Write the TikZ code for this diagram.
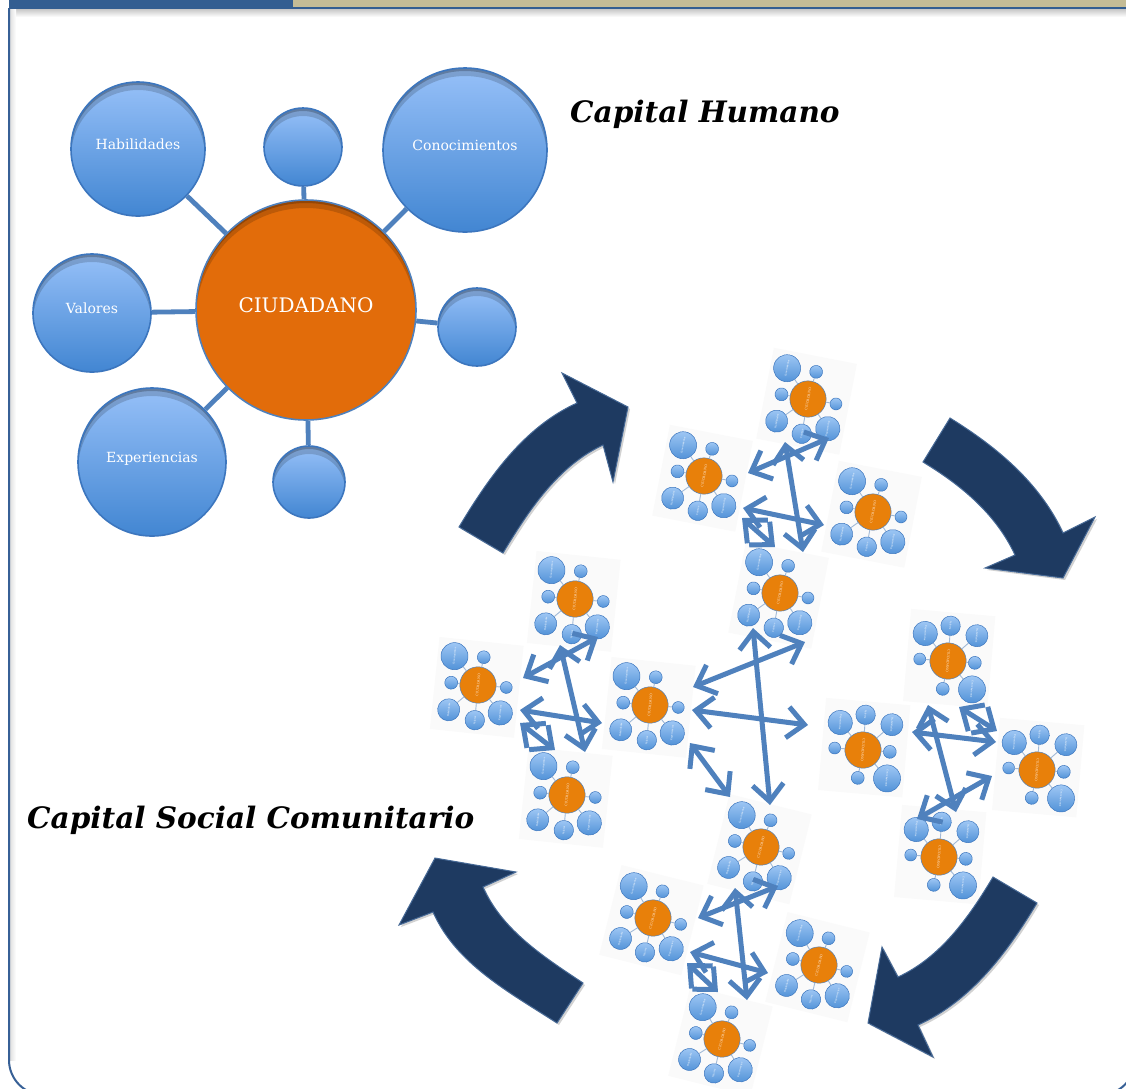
\documentclass[tikz,border=0pt]{standalone}
\usepackage{fontspec}
\setmainfont{DejaVu Serif}
\usetikzlibrary{arrows.meta,calc,shadows}
\definecolor{barblue}{RGB}{51,94,145}
\definecolor{bartan}{RGB}{196,188,150}
\definecolor{frameblue}{RGB}{55,96,150}
\definecolor{linkblue}{RGB}{79,129,189}
\definecolor{bubtop}{RGB}{150,192,248}
\definecolor{bubbot}{RGB}{66,134,210}
\definecolor{bubline}{RGB}{60,118,190}
\definecolor{mbubtop}{RGB}{160,200,245}
\definecolor{mbubbot}{RGB}{80,145,215}
\definecolor{orangec}{RGB}{226,108,10}
\definecolor{miniorange}{RGB}{232,128,10}
\definecolor{mlinkc}{RGB}{160,185,215}
\definecolor{navy}{RGB}{30,58,97}
\definecolor{navyedge}{RGB}{70,105,150}
\tikzset{
  inshadow/.style={path picture={
     \draw[black, opacity=0.16, line width=16pt] let \p1=(path picture bounding box.north), \p2=(path picture bounding box.center), \n1={\y1-\y2} in ([yshift=-8pt]\p2) circle[radius={\n1+8pt}];
     \draw[black, opacity=0.22, line width=6pt] let \p1=(path picture bounding box.north), \p2=(path picture bounding box.center), \n1={\y1-\y2} in ([yshift=-3pt]\p2) circle[radius={\n1+3pt}];
  }},
  bub/.style={circle, draw=bubline, line width=1.6pt, inner sep=0pt, top color=bubtop, bottom color=bubbot, text=white, font=\fontsize{14}{16}\selectfont, text height=10pt, text depth=10pt, inshadow},
  hub/.style={circle, draw=linkblue, line width=1.6pt, inner sep=0pt, fill=orangec, text=white, font=\fontsize{20}{22}\selectfont, text height=15pt, text depth=10pt, inshadow},
  link/.style={linkblue, line width=4.8pt},
  mbub/.style={circle, draw=bubline, line width=0.5pt, inner sep=0pt, top color=mbubtop, bottom color=mbubbot, text=white, font=\fontsize{14}{14}\selectfont},
  mhub/.style={circle, draw=linkblue, line width=0.5pt, inner sep=0pt, fill=miniorange, text=white!80!orange, font=\fontsize{20}{20}\selectfont},
  mlink/.style={draw=mlinkc, line width=0.9pt},
  dbl/.style={linkblue, line width=5pt, {Straight Barb[length=17pt,width=31pt]}-{Straight Barb[length=17pt,width=31pt]}},
  bigarrow/.style={fill=navy, draw=navyedge, line width=1pt, drop shadow={opacity=0.35, shadow xshift=2pt, shadow yshift=-2pt}},
  title/.style={font=\fontsize{29.5}{36}\selectfont\bfseries\itshape, inner sep=0pt},
  minimap/.pic={
    \fill[black!2] (-295,-262) rectangle (265,250);
    \node[mhub, minimum size=220pt] (-c) at (0,0) {CIUDADANO};
    \node[mbub, minimum size=134pt] (-h) at (-168,-161) {Habilidades};
    \node[mbub, minimum size=78pt] (-t) at (-3,-163) {};
    \node[mbub, minimum size=164pt] (-k) at (159,-160) {Conocimientos};
    \node[mbub, minimum size=118pt] (-v) at (-214,3) {Valores};
    \node[mbub, minimum size=78pt] (-r) at (171,17) {};
    \node[mbub, minimum size=148pt] (-e) at (-154,152) {Experiencias};
    \node[mbub, minimum size=72pt] (-b) at (3,172) {};
    \foreach \n in {h,t,k,v,r,e,b} \draw[mlink] (-c) -- (-\n);
  }
}
\begin{document}
\begin{tikzpicture}[x=1pt,y=-1pt]
\useasboundingbox (0,0) rectangle (1126,1088);
\begin{scope}
\clip (0,0) rectangle (1126,1088);
\fill[white] (0,0) rectangle (1126,1088);
% frame
\shade[top color=black!22, bottom color=white] (10,9) rectangle (1126,17);
\shade[left color=black!12, right color=white] (10,9) rectangle (16,1060);
\draw[frameblue, line width=2pt, rounded corners=35pt] (9,8) -- (9,1095) -- (1135,1095) -- (1135,8);
\fill[barblue] (9,0) rectangle (293,9);
\fill[bartan] (293,0) rectangle (1126,7);
\fill[barblue] (293,7) rectangle (1126,9);

% main map
\node[hub, minimum size=220pt] (cit) at (306,310) {CIUDADANO};
\node[bub, minimum size=134pt] (hab) at (138,149) {Habilidades};
\node[bub, minimum size=78pt] (tops) at (303,147) {};
\node[bub, minimum size=164pt] (con) at (465,150) {Conocimientos};
\node[bub, minimum size=118pt] (val) at (92,313) {Valores};
\node[bub, minimum size=78pt] (rgt) at (477,327) {};
\node[bub, minimum size=148pt] (exp) at (152,462) {Experiencias};
\node[bub, minimum size=72pt] (bots) at (309,482) {};
\foreach \n in {hab,tops,con,val,rgt,exp,bots} \draw[link] (cit) -- (\n);

% titles
\node[title, anchor=base west] (capH) at (570,122) {Capital Humano};
\node[title, anchor=base west] (capS) at (27,828) {Capital Social Comunitario};

% mini maps
\foreach \i/\px/\py/\rot in {1/808/399/79, 2/704/476/79, 3/873/512/79, 4/780/593/79,
  5/575/599/84, 6/478/685/84, 7/650/705/84, 8/567/795/84,
  9/948/661/-95, 10/863/750/-95, 11/1037/770/-95, 13/939/857/-95,
  12/761/847/76, 14/653/918/76, 15/819/965/76, 16/722/1039/76}
  \pic[rotate=\rot, scale=0.165, transform shape] (m\i) at (\px,\py) {minimap};

% double arrows
\foreach \i/\ax/\ay/\bx/\by in {1/748/473/829/438, 2/785/442/803/552, 3/743/508/824/525, 4/742/518/775/547,
  5/523/678/598/637, 6/560/645/585/752, 7/520/710/602/723, 8/520/723/555/750,
  9/928/705/956/812, 10/912/732/996/742, 11/959/707/997/731, 12/917/819/992/776,
  13/698/918/778/886, 14/735/888/747/1000, 15/690/952/768/973, 16/687/963/718/992,
  17/693/687/805/642, 18/692/710/808/725, 19/753/628/770/805, 20/690/743/730/797}
{
  \coordinate (da\i) at (\ax,\ay);
  \coordinate (db\i) at (\bx,\by);
  \draw[dbl] (da\i) -- (db\i);
}

% big curved arrows
\path[bigarrow] (459,527) .. controls (489,477) and (524,427) .. (577,403) -- (562,373) -- (628,407) -- (613,482) -- (603,445) .. controls (558,466) and (529,510) .. (503,553) -- cycle;
\path[bigarrow] (950,418) .. controls (997,447) and (1040,483) .. (1063,533) -- (1095,517) -- (1063,578) -- (985,568) -- (1015,555) .. controls (996,514) and (961,485) .. (923,462) -- cycle;
\path[bigarrow] (993,877) .. controls (969,917) and (941,957) .. (898,977) -- (882,947) -- (868,1023) -- (933,1057) -- (918,1025) .. controls (971,1001) and (1007,953) .. (1037,903) -- cycle;
\path[bigarrow] (583,983) .. controls (544,957) and (502,930) .. (483,887) -- (516,872) -- (435,858) -- (399,925) -- (433,912) .. controls (456,964) and (509,992) .. (557,1023) -- cycle;
\end{scope}
\end{tikzpicture}
\end{document}
